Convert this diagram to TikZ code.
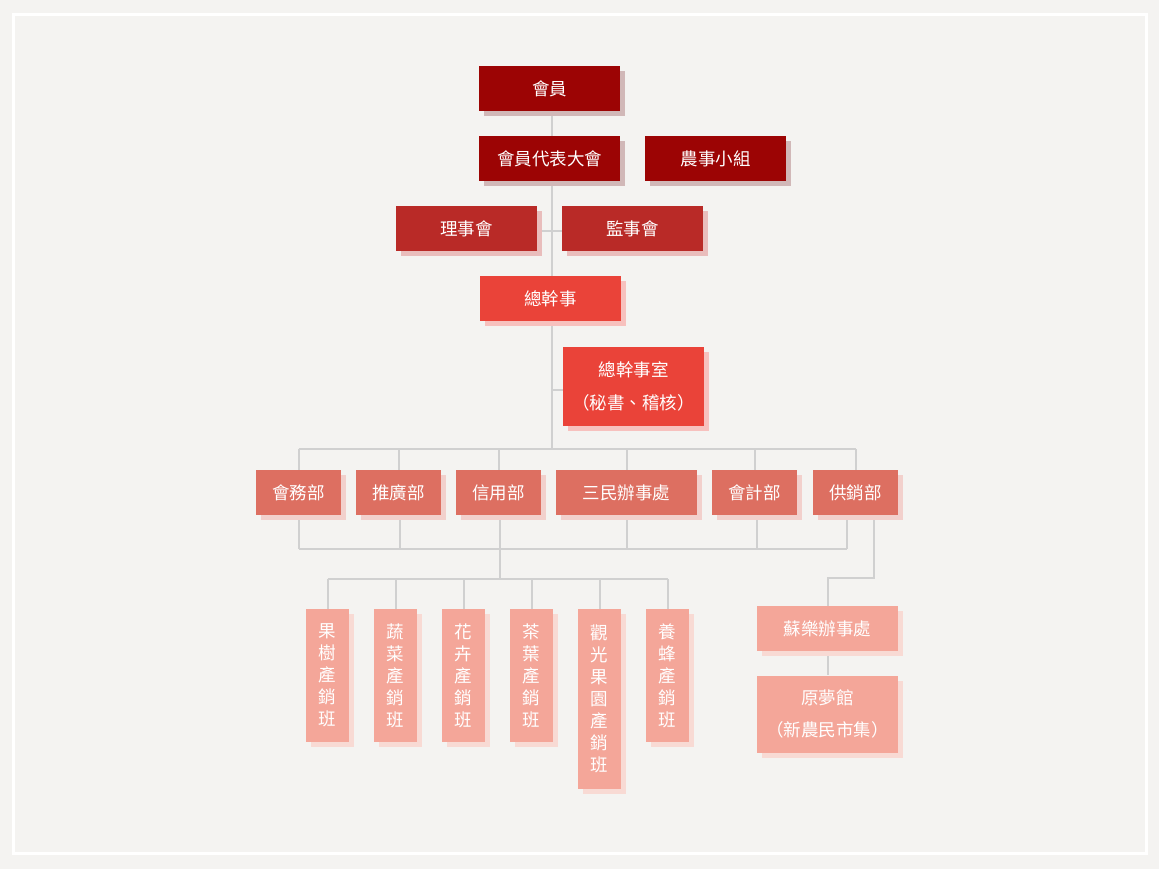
\documentclass[tikz,border=0pt]{standalone}
\usepackage{fontspec}
\newfontfamily\cjk{Noto Sans CJK TC}
\usetikzlibrary{shadows}
\pgfdeclarelayer{back}
\pgfdeclarelayer{bg}
\pgfsetlayers{back,bg,main}
\definecolor{bgc}{HTML}{F4F3F1}
\definecolor{cA}{HTML}{9C0404}
\definecolor{cB}{HTML}{B92A27}
\definecolor{cC}{HTML}{EA4339}
\definecolor{cD}{HTML}{DD6F61}
\definecolor{cE}{HTML}{F4A699}
\definecolor{sA}{HTML}{D1B8B8}
\definecolor{sB}{HTML}{E9BDBC}
\definecolor{sC}{HTML}{F7C1BE}
\definecolor{sD}{HTML}{F2D0CC}
\definecolor{sE}{HTML}{F8DAD4}
\definecolor{linec}{HTML}{D0D0D0}
\tikzset{
  box/.style={rectangle, inner sep=0pt, text=white, align=center,
    font=\cjk\fontsize{17.5}{22}\selectfont},
  boxA/.style={box, fill=cA, general shadow={fill=sA, shadow xshift=5pt, shadow yshift=-5pt}},
  boxB/.style={box, fill=cB, general shadow={fill=sB, shadow xshift=5pt, shadow yshift=-5pt}},
  boxC/.style={box, fill=cC, general shadow={fill=sC, shadow xshift=5pt, shadow yshift=-5pt}},
  boxD/.style={box, fill=cD, general shadow={fill=sD, shadow xshift=5pt, shadow yshift=-5pt}},
  boxE/.style={box, fill=cE, general shadow={fill=sE, shadow xshift=5pt, shadow yshift=-5pt}},
  wide/.style={minimum width=141pt, minimum height=45pt},
  dept/.style={minimum width=85pt, minimum height=45pt},
  vert/.style={minimum width=43pt, text width=43pt},
  conn/.style={draw=linec, line width=2pt},
}
\begin{document}
\begin{tikzpicture}[x=1pt,y=-1pt]
\begin{pgfonlayer}{back}
\fill[bgc] (0,0) rectangle (1159,869);
\draw[white, line width=3pt] (13.5,14.5) rectangle (1146.5,853.5);
\end{pgfonlayer}
% level 1
\node[boxA, wide] (hy) at (549.5,88.5) {會員};
\node[boxA, wide] (hydb) at (549.5,158.5) {會員代表大會};
\node[boxA, wide] (nsxz) at (715.5,158.5) {農事小組};
\node[boxB, wide] (lsh) at (466.5,228.5) {理事會};
\node[boxB, wide] (jsh) at (632.5,228.5) {監事會};
\node[boxC, wide] (zgs) at (550.5,298.5) {總幹事};
\node[boxC, minimum width=141pt, minimum height=79pt, font=\cjk\fontsize{17.5}{33}\selectfont] (zgss) at (633.5,386.5) {總幹事室\\（秘書、稽核）};
% departments
\node[boxD, dept] (hw) at (298.5,492.5) {會務部};
\node[boxD, dept] (tg) at (398.5,492.5) {推廣部};
\node[boxD, dept] (xy) at (498.5,492.5) {信用部};
\node[boxD, wide] (sm) at (626.5,492.5) {三民辦事處};
\node[boxD, dept] (hj) at (754.5,492.5) {會計部};
\node[boxD, dept] (gx) at (855.5,492.5) {供銷部};
% production groups
\node[boxE, vert, minimum height=133pt] (p1) at (327.5,675.5) {果\\樹\\產\\銷\\班};
\node[boxE, vert, minimum height=133pt] (p2) at (395.5,675.5) {蔬\\菜\\產\\銷\\班};
\node[boxE, vert, minimum height=133pt] (p3) at (463.5,675.5) {花\\卉\\產\\銷\\班};
\node[boxE, vert, minimum height=133pt] (p4) at (531.5,675.5) {茶\\葉\\產\\銷\\班};
\node[boxE, vert, minimum height=180pt] (p5) at (599.5,699) {觀\\光\\果\\園\\產\\銷\\班};
\node[boxE, vert, minimum height=133pt] (p6) at (667.5,675.5) {養\\蜂\\產\\銷\\班};
\node[boxE, wide] (sl) at (827.5,628.5) {蘇樂辦事處};
\node[boxE, minimum width=141pt, minimum height=77pt, font=\cjk\fontsize{17.5}{32}\selectfont] (ymg) at (827.5,714) {原夢館\\（新農民市集）};
% connectors
\coordinate (spineB) at (552,449);
\coordinate (busTL) at (298.5,449);
\coordinate (busTR) at (855.5,449);
\coordinate (busBL) at (298.5,549);
\coordinate (busBR) at (847,549);
\coordinate (busPL) at (327.5,579);
\coordinate (busPR) at (667.5,579);
\coordinate (gxTurn) at (874,578);
\coordinate (slTurn) at (827.5,578);
\begin{pgfonlayer}{bg}
\draw[conn] (hy.south -| spineB) -- (spineB);
\draw[conn] ([yshift=-2.5pt]lsh.east) -- ([yshift=-2.5pt]jsh.west);
\draw[conn] (zgss.west |- 552,390) -- (552,390);
\draw[conn] (busTL) -- (busTR);
\foreach \d in {hw,tg,xy,sm,hj,gx} { \draw[conn] (\d.north) -- (\d.north |- busTL); }
\draw[conn] (busBL) -- (busBR);
\draw[conn] (hw.south) -- (hw.south |- busBL);
\draw[conn] ([xshift=1.5pt]tg.south) -- ([xshift=1.5pt]tg.south |- busBL);
\draw[conn] ([xshift=1.5pt]xy.south) -- ([xshift=1.5pt]xy.south |- busPL);
\draw[conn] (sm.south) -- (sm.south |- busBL);
\draw[conn] ([xshift=2.5pt]hj.south) -- ([xshift=2.5pt]hj.south |- busBL);
\draw[conn] (gx.south -| busBR) -- (busBR);
\draw[conn] (busPL) -- (busPR);
\foreach \p in {p1,p2,p3,p4,p5,p6} { \draw[conn] (\p.north) -- (\p.north |- busPL); }
\draw[conn] (gx.south -| gxTurn) -- (gxTurn) -- (slTurn) -- (sl.north);
\draw[conn] (sl.south) -- (ymg.north);
\end{pgfonlayer}
\end{tikzpicture}
\end{document}
